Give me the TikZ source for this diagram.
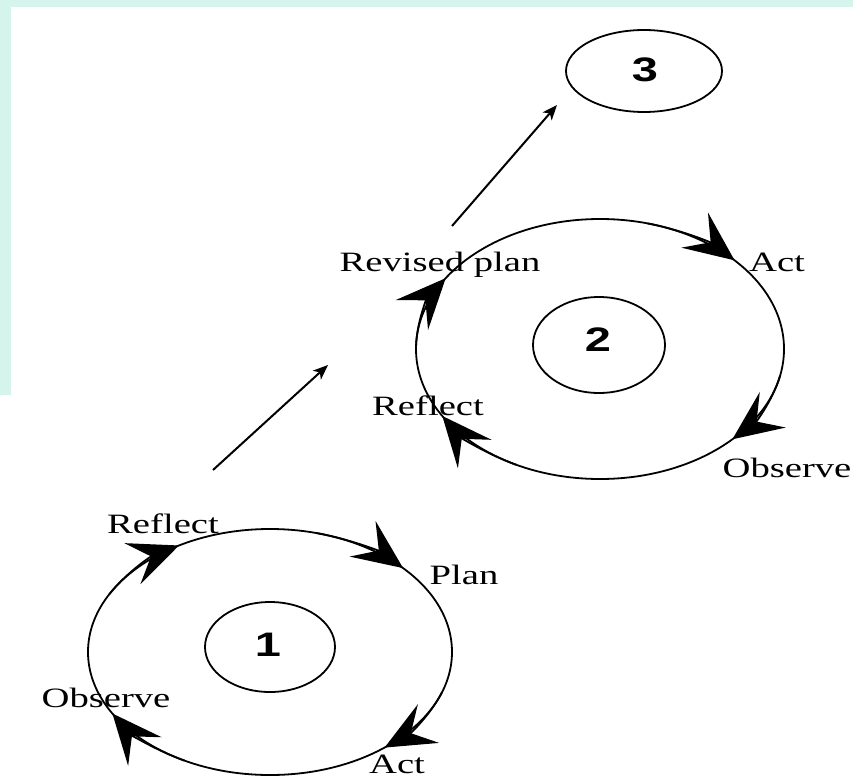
\documentclass[tikz,border=0pt]{standalone}
\usepackage{fontspec}
\setmainfont{Liberation Serif}
\newfontfamily\digitfont{Liberation Sans}
\usetikzlibrary{arrows.meta,shapes.geometric}
\definecolor{mint}{RGB}{212,244,236}
\tikzset{
  cycline/.style={line width=1.8pt, black},
  bigtip/.style={cycline, -{Stealth[length=50pt,width=44pt,inset=20pt]}},
  hop/.style={line width=2pt, -{Stealth[length=15pt,width=12pt,inset=4pt]}},
  lbl/.style={font=\fontsize{28}{30}\selectfont, xscale=1.38, anchor=base, inner sep=0pt},
  digit/.style={font=\digitfont\bfseries\fontsize{34}{36}\selectfont, xscale=1.38, inner sep=0pt},
  cyc/.style={ellipse, draw, line width=1.8pt, inner sep=0pt}
}
\begin{document}
\begin{tikzpicture}[x=1pt,y=-1pt]
\useasboundingbox (0,0) rectangle (853,778);
\fill[white] (0,0) rectangle (853,778);
\fill[mint] (0,0) rectangle (853,7);
\fill[mint] (0,0) rectangle (11,395);

% cycle 1
\node[cyc, minimum width=364pt, minimum height=246pt] (c1) at (270,652) {};
\node[cyc, minimum width=130pt, minimum height=90pt] (n1) at (270,647) {};
\node[digit] (d1) at (268,645) {1};
\draw[bigtip] (c1.center) ++(-152:182 and 123) arc[start angle=-152, end angle=-120, x radius=182, y radius=123];
\draw[bigtip] (c1.center) ++(-75:182 and 123) arc[start angle=-75, end angle=-43, x radius=182, y radius=123];
\draw[bigtip] (c1.center) ++(19:182 and 123) arc[start angle=19, end angle=51, x radius=182, y radius=123];
\draw[bigtip] (c1.center) ++(118:182 and 123) arc[start angle=118, end angle=150, x radius=182, y radius=123];
\node[lbl] (r1) at (163,533) {Reflect};
\node[lbl] (p1) at (464,584) {Plan};
\node[lbl] (o1) at (106,707) {Observe};
\node[lbl] (a1) at (397,773) {Act};

% cycle 2
\node[cyc, minimum width=368pt, minimum height=260pt] (c2) at (600,349) {};
\node[cyc, minimum width=132pt, minimum height=96pt] (n2) at (599,345) {};
\node[digit] (d2) at (598,340) {2};
\draw[bigtip] (c2.center) ++(-179:184 and 130) arc[start angle=-179, end angle=-147, x radius=184, y radius=130];
\draw[bigtip] (c2.center) ++(-75:184 and 130) arc[start angle=-75, end angle=-43, x radius=184, y radius=130];
\draw[bigtip] (c2.center) ++(12:184 and 130) arc[start angle=12, end angle=44, x radius=184, y radius=130];
\draw[bigtip] (c2.center) ++(117:184 and 130) arc[start angle=117, end angle=149, x radius=184, y radius=130];
\node[lbl] (rp2) at (440,271) {Revised plan};
\node[lbl] (a2) at (777,271) {Act};
\node[lbl] (r2) at (428,415) {Reflect};
\node[lbl] (o2) at (787,477) {Observe};

% stage 3
\node[cyc, minimum width=156pt, minimum height=82pt] (n3) at (644,71) {};
\node[digit] (d3) at (645,70) {3};

% progression arrows
\coordinate (s1) at (213,470);
\coordinate (e1) at (328,365);
\coordinate (s2) at (452,226);
\coordinate (e2) at (557,105);
\draw[hop] (s1) -- (e1);
\draw[hop] (s2) -- (e2);
\end{tikzpicture}
\end{document}
